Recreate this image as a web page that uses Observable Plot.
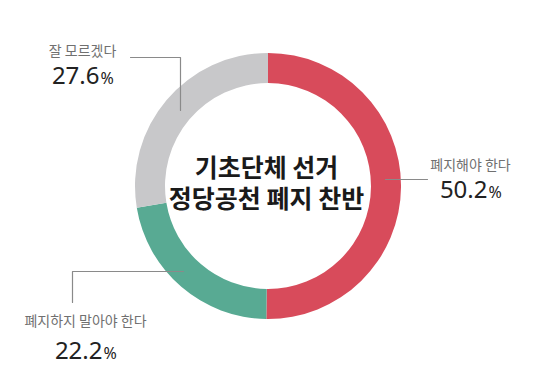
<!DOCTYPE html>
<html><head><meta charset="utf-8">
<script src="https://cdn.jsdelivr.net/npm/d3@7"></script>
<script src="https://cdn.jsdelivr.net/npm/@observablehq/plot@0.6"></script>
<style>html,body{margin:0;padding:0;background:#fff}</style>
</head><body><div id="chart"></div>
<script>
// ---- data ----
const categories = ["폐지해야 한다", "폐지하지 말아야 한다", "잘 모르겠다"];
const values = [50.2, 22.2, 27.6];
const colors = ["#d84b5b", "#58aa93", "#c8c8ca"];
const titleText = "기초단체 선거\n정당공천 폐지 찬반";

// ---- layout (pixels, relative to donut centre) ----
const W = 539, H = 378, CX = 268, CY = 186, R_OUT = 133, R_IN = 103;
const labelLayout = [
  {x: 202, yCat: -21, yNum: 11, leader: [[117, -7], [159, -7]]},
  {x: -183, yCat: 135, yNum: 172, leader: [[-85, 85], [-196, 85], [-196, 116]]},
  {x: -186, yCat: -134.5, yNum: -103, leader: [[-138, -129], [-88, -129], [-88, -76]]}
];

const labels = categories.map((c, i) => ({
  category: c, value: values[i], num: values[i].toFixed(1), ...labelLayout[i]
}));
const leaders = labels.flatMap((d, i) => d.leader.map(([x, y]) => ({id: i, x, y})));
const slices = categories.map((c, i) => ({category: c, value: values[i], color: colors[i]}));

function donut(index, scales) {
  const X = scales.x, Y = scales.y;
  const k = X(1) - X(0);
  const arcs = d3.pie().sort(null).value(d => d.value)(slices);
  const arc = d3.arc().innerRadius(R_IN * k).outerRadius(R_OUT * k);
  const g = d3.create("svg:g").attr("transform", `translate(${X(0)},${Y(0)})`);
  g.selectAll("path").data(arcs).join("path")
    .attr("d", arc).attr("fill", d => d.data.color);
  return g.node();
}

const chart = Plot.plot({
  width: W, height: H,
  margin: 0,
  x: {domain: [-CX, W - CX], range: [0, W], axis: null},
  y: {domain: [-CY, H - CY], range: [0, H], axis: null},
  style: {background: "#fff"},
  marks: [
    donut,
    Plot.line(leaders, {x: "x", y: "y", z: "id", stroke: "#8a8a8a", strokeWidth: 1.2}),
    Plot.text([titleText], {x: () => -2, y: () => -4, text: d => d, fontSize: 25, fontWeight: "bold",
      fill: "#1a1a1a", lineHeight: 1.26, lineAnchor: "middle", fontFamily: "Noto Sans CJK KR"}),
    Plot.text(labels, {x: "x", y: "yCat", text: "category", fontSize: 14, fill: "#707070",
      lineAnchor: "middle", fontFamily: "Noto Sans CJK KR"}),
    Plot.text(labels, {x: "x", y: "yNum", text: "num", fontSize: 24, fill: "#222",
      textAnchor: "end", dx: 17, lineAnchor: "bottom", fontFamily: "Noto Sans"}),
    Plot.text(labels, {x: "x", y: "yNum", text: () => "%", fontSize: 16, fill: "#222",
      textAnchor: "start", dx: 18, lineAnchor: "bottom", fontFamily: "Noto Sans"})
  ]
});
document.getElementById("chart").appendChild(chart);
</script>
</body></html>
